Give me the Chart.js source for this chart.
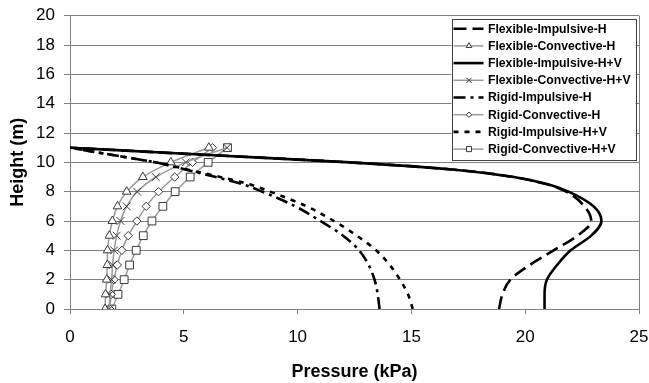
<!DOCTYPE html>
<html><head><meta charset="utf-8">
<script src="https://cdn.jsdelivr.net/npm/chart.js@4.4.1/dist/chart.umd.min.js"></script>
<style>html,body{margin:0;padding:0;background:#fff;} #wrap{width:649px;height:383px;position:relative;}</style>
</head><body><div id="wrap"><canvas id="c" width="649" height="383"></canvas></div>
<script>
// ---- data (pressure in kPa at given heights in m) ----
const heightsConv = [0,1,2,3,4,5,6,7,8,9,10,11];
const flexConvH   = [1.54,1.56,1.61,1.64,1.65,1.73,1.86,2.09,2.49,3.2,4.43,6.1];
const flexConvHV  = [1.73,1.75,1.83,1.87,1.94,2.05,2.22,2.49,2.95,3.77,5.09,6.9];
const rigidConvH  = [1.75,1.81,1.93,2.08,2.28,2.56,2.94,3.35,3.89,4.6,5.38,6.26];
const rigidConvHV = [1.84,2.11,2.38,2.62,2.91,3.22,3.6,4.08,4.62,5.28,6.07,6.92];
const heightsImp  = [0,1,2,3,4,5,6,7,8,8.5,9,9.5,10,10.5,11];
const flexImpH    = [18.85,19.0,19.35,20.2,21.25,22.3,22.9,22.6,21.8,20.95,19.5,16.9,12.3,6.1,0];
const flexImpHV   = [20.85,20.85,20.95,21.4,22.0,22.9,23.35,23.0,21.9,21.0,19.5,16.9,12.3,6.1,0];
const rigidImpH   = [13.6,13.52,13.38,13.12,12.7,12.0,11.0,9.9,8.45,7.6,6.4,5.1,3.75,1.87,0];
const rigidImpHV  = [15.06,14.85,14.5,14.05,13.45,12.6,11.6,10.4,8.8,7.9,6.6,5.2,3.75,1.87,0];
const seriesNames = ['Flexible-Impulsive-H','Flexible-Convective-H','Flexible-Impulsive-H+V','Flexible-Convective-H+V',
                     'Rigid-Impulsive-H','Rigid-Convective-H','Rigid-Impulsive-H+V','Rigid-Convective-H+V'];
const xTicks = [0,5,10,15,20,25];
const yTicks = [0,2,4,6,8,10,12,14,16,18,20];

const FONT = '"Liberation Sans", Arial, sans-serif';
const pts = (hs, ps) => hs.map((h,i)=>({x: ps[i], y: h}));
function imp(label, hs, ps, dash){
  return {label, data: pts(hs,ps), borderColor:'#000', borderWidth:2.6, borderDash:dash,
          pointRadius:0, pointHoverRadius:0, cubicInterpolationMode:'monotone', fill:false, order:0};
}
function conv(label, hs, ps, style, r){
  return {label, data: pts(hs,ps), borderColor:'#9a9a9a', borderWidth:1.5, borderDash:[],
          pointStyle:style, pointRadius:r, pointHoverRadius:r, pointBackgroundColor:'#fff',
          pointBorderColor:'#3a3a3a', pointBorderWidth:1, cubicInterpolationMode:'monotone', fill:false, order:1};
}
const datasets = [
  imp(seriesNames[0], heightsImp, flexImpH, [13,6]),
  conv(seriesNames[1], heightsConv, flexConvH, 'triangle', 5),
  imp(seriesNames[2], heightsImp, flexImpHV, []),
  conv(seriesNames[3], heightsConv, flexConvHV, 'crossRot', 5.5),
  imp(seriesNames[4], heightsImp, rigidImpH, [12,5,3,5]),
  conv(seriesNames[5], heightsConv, rigidConvH, 'rectRot', 4.2),
  imp(seriesNames[6], heightsImp, rigidImpHV, [5,6]),
  conv(seriesNames[7], heightsConv, rigidConvHV, 'rect', 5.5)
];

const framePlugin = {
  id:'frame',
  afterDraw(chart){
    const {ctx, chartArea:a} = chart;
    ctx.save();
    ctx.strokeStyle='#808080'; ctx.lineWidth=1;
    ctx.beginPath(); ctx.moveTo(Math.round(a.right)+0.5, a.top); ctx.lineTo(Math.round(a.right)+0.5, a.bottom); ctx.stroke();
    // legend box
    const x0 = a.right - 187.5, y0 = a.top + 3, w = 184, h = 141;
    ctx.fillStyle='#fff'; ctx.fillRect(x0, y0, w, h);
    ctx.strokeStyle='#404040'; ctx.strokeRect(Math.round(x0)+0.5, Math.round(y0)+0.5, w, h);
    chart.data.datasets.forEach((ds,i)=>{
      const y = y0 + 10 + i*17.2;
      ctx.save();
      ctx.setLineDash(ds.borderDash||[]);
      ctx.strokeStyle = ds.borderColor; ctx.lineWidth = ds.borderWidth;
      ctx.beginPath(); ctx.moveTo(x0+2, y); ctx.lineTo(x0+32, y); ctx.stroke();
      ctx.restore();
      if (ds.pointRadius > 0){
        ctx.save();
        ctx.fillStyle='#fff'; ctx.strokeStyle='#3a3a3a'; ctx.lineWidth=1;
        Chart.helpers.drawPoint(ctx, {pointStyle: ds.pointStyle, radius: ds.pointRadius*0.65, borderWidth:1, rotation:0}, x0+17.5, y);
        ctx.restore();
      }
      ctx.fillStyle='#000'; ctx.font='bold 12.2px '+FONT; ctx.textBaseline='middle'; ctx.textAlign='left';
      ctx.fillText(ds.label, x0+36.5, y+0.5);
    });
    ctx.restore();
  }
};

new Chart(document.getElementById('c'), {
  type:'line',
  data:{datasets},
  options:{
    indexAxis:'y',
    responsive:false, animation:false,
    layout:{padding:{top:15.7, right:10, left:0, bottom:0}},
    plugins:{legend:{display:false}, tooltip:{enabled:false}},
    elements:{line:{tension:0}},
    scales:{
      x:{type:'linear', position:'bottom', min:0, max:25,
         afterBuildTicks(s){ s.ticks = xTicks.map(v=>({value:v})); },
         afterFit(s){ s.height = 74; s.paddingLeft = 0; s.paddingRight = 0; },
         grid:{drawOnChartArea:false, drawTicks:true, tickLength:5, color:'#808080'},
         border:{color:'#808080', width:1},
         ticks:{font:{family:FONT, size:17}, color:'#000', padding:13, maxRotation:0},
         title:{display:true, text:'Pressure (kPa)', font:{family:FONT, size:18, weight:'bold'}, color:'#000', padding:{top:0,bottom:0}}
      },
      y:{type:'linear', position:'left', min:0, max:20,
         afterBuildTicks(s){ s.ticks = yTicks.map(v=>({value:v})); },
         afterFit(s){ s.width = 70; s.paddingTop = 0; s.paddingBottom = 0; },
         grid:{color:'#808080', tickLength:6},
         border:{color:'#808080', width:1},
         ticks:{font:{family:FONT, size:17}, color:'#000', padding:9},
         title:{display:true, text:'Height (m)', font:{family:FONT, size:18, weight:'bold'}, color:'#000', padding:{top:7,bottom:0}}
      }
    }
  },
  plugins:[framePlugin]
});
</script></body></html>
